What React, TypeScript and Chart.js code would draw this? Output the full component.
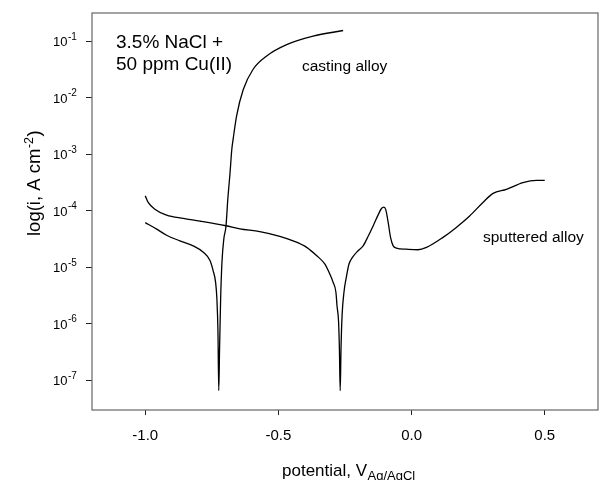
import React, { useEffect, useRef } from "react";
import { Chart, registerables } from "chart.js";

Chart.register(...registerables);

// ---- data (potential in V vs Ag/AgCl, current density in A cm^-2) ----
const castingPotential = [
  -1.0, -0.957, -0.92, -0.87, -0.82, -0.782, -0.757, -0.745, -0.736, -0.731, -0.727, -0.724,
  -0.721, -0.717, -0.712, -0.705, -0.697, -0.69, -0.682, -0.675, -0.67, -0.657, -0.632,
  -0.595, -0.544, -0.469, -0.37, -0.257,
];
const castingCurrent = [
  6.2e-5, 4.75e-5, 3.7e-5, 2.95e-5, 2.4e-5, 1.85e-5, 1.32e-5, 8.7e-6, 5.5e-6, 2.75e-6, 7.1e-7, 6.6e-8,
  3.6e-7, 2.75e-6, 1.23e-5, 3.2e-5, 5.3e-5, 1.62e-4, 4.5e-4, 1.23e-3, 1.86e-3, 4.8e-3, 1.4e-2,
  3.2e-2, 5.5e-2, 8.7e-2, 0.123, 0.155,
];

const sputteredPotential = [
  -1.0, -0.989, -0.964, -0.92, -0.857, -0.795, -0.697, -0.645, -0.57, -0.495, -0.445, -0.394,
  -0.357, -0.326, -0.307, -0.295, -0.284, -0.28, -0.274, -0.271, -0.268, -0.265, -0.261, -0.254,
  -0.244, -0.235, -0.222, -0.201, -0.182, -0.163, -0.144, -0.126, -0.113, -0.104, -0.097, -0.088,
  -0.079, -0.069, -0.057, -0.019, 0.024, 0.056, 0.118, 0.168, 0.218, 0.268, 0.306, 0.356, 0.418,
  0.469, 0.5,
];
const sputteredCurrent = [
  1.84e-4, 1.41e-4, 1.07e-4, 8.4e-5, 7.35e-5, 6.6e-5, 5.45e-5, 4.8e-5, 4.3e-5, 3.55e-5, 2.95e-5, 2.26e-5,
  1.62e-5, 1.15e-5, 7.6e-6, 5.5e-6, 3.6e-6, 2.1e-6, 1.07e-6, 3.6e-7, 6.6e-8, 3.6e-7, 1.4e-6, 3.6e-6,
  7.1e-6, 1.15e-5, 1.5e-5, 1.97e-5, 2.4e-5, 3.55e-5, 5.45e-5, 8.4e-5, 1.1e-4, 1.16e-4, 1.05e-4, 6.3e-5,
  3.4e-5, 2.4e-5, 2.2e-5, 2.1e-5, 2.05e-5, 2.26e-5, 3.4e-5, 5.1e-5, 8.1e-5, 1.41e-4, 2.04e-4, 2.4e-4, 3.16e-4,
  3.47e-4, 3.47e-4,
];

const xTicks = [-1.0, -0.5, 0.0, 0.5];
const xTickLabels = ["-1.0", "-0.5", "0.0", "0.5"];
const yTickExponents = [-1, -2, -3, -4, -5, -6, -7];

const xTitle = "potential, V";
const xTitleSub = "Ag/AgCl";
const yTitleMain = "log(i, A cm";
const yTitleSup = "-2";
const yTitleEnd = ")";
const noteLines = ["3.5% NaCl +", "50 ppm Cu(II)"];
const castingLabel = "casting alloy";
const sputteredLabel = "sputtered alloy";

const FONT = "'Liberation Sans', Arial, Helvetica, sans-serif";

const textPlugin = {
  id: "textPlugin",
  afterDraw(chart: any) {
    const ctx: CanvasRenderingContext2D = chart.ctx;
    const { left, right, top, bottom } = chart.chartArea;
    const xs = chart.scales.x;
    const ys = chart.scales.y;
    ctx.save();
    ctx.strokeStyle = "#666";
    ctx.lineWidth = 1.2;
    ctx.strokeRect(left, top, right - left, bottom - top);

    ctx.fillStyle = "#000";
    ctx.textBaseline = "alphabetic";

    ctx.font = `15px ${FONT}`;
    ctx.textAlign = "center";
    xTicks.forEach((v, i) => {
      const px = xs.getPixelForValue(v);
      ctx.fillText(xTickLabels[i], px, 440);
    });

    ys.ticks.forEach((t: any) => {
      const py = ys.getPixelForValue(t.value);
      const e = Math.round(Math.log10(t.value));
      ctx.textAlign = "left";
      ctx.font = `13px ${FONT}`;
      ctx.fillText("10", 53, py + 5);
      const w = ctx.measureText("10").width;
      ctx.font = `10px ${FONT}`;
      ctx.fillText(String(e), 53 + w + 0.5, py - 1.5);
    });

    ctx.textAlign = "left";
    ctx.font = `17px ${FONT}`;
    const tx = 282;
    ctx.fillText(xTitle, tx, 476);
    const tw = ctx.measureText(xTitle).width;
    ctx.font = `13px ${FONT}`;
    ctx.fillText(xTitleSub, tx + tw + 0.5, 480);

    ctx.save();
    ctx.translate(40, 236);
    ctx.rotate(-Math.PI / 2);
    ctx.font = `18.5px ${FONT}`;
    ctx.fillText(yTitleMain, 0, 0);
    const w1 = ctx.measureText(yTitleMain).width;
    ctx.font = `12.5px ${FONT}`;
    ctx.fillText(yTitleSup, w1 + 0.5, -7.5);
    const w2 = ctx.measureText(yTitleSup).width;
    ctx.font = `18.5px ${FONT}`;
    ctx.fillText(yTitleEnd, w1 + w2 + 1, 0);
    ctx.restore();

    ctx.font = `19px ${FONT}`;
    ctx.fillText(noteLines[0], 116, 48);
    ctx.fillText(noteLines[1], 116, 70);
    ctx.font = `15.5px ${FONT}`;
    ctx.fillText(castingLabel, 302, 71);
    ctx.fillText(sputteredLabel, 483, 242);
    ctx.restore();
  },
};

export default function App() {
  const ref = useRef<HTMLCanvasElement>(null);
  useEffect(() => {
    const canvas = ref.current!;
    const chart = new Chart(canvas, {
      type: "line",
      data: {
        datasets: [
          {
            label: castingLabel,
            data: castingPotential.map((x, i) => ({ x, y: castingCurrent[i] })),
            borderColor: "#000",
            borderWidth: 1.3,
            pointRadius: 0,
            cubicInterpolationMode: "monotone",
            fill: false,
          },
          {
            label: sputteredLabel,
            data: sputteredPotential.map((x, i) => ({ x, y: sputteredCurrent[i] })),
            borderColor: "#000",
            borderWidth: 1.3,
            pointRadius: 0,
            cubicInterpolationMode: "monotone",
            fill: false,
          },
        ],
      },
      options: {
        animation: false,
        responsive: false,
        devicePixelRatio: 1,
        layout: { padding: { left: 0, top: 13, right: 5, bottom: 0 } },
        plugins: { legend: { display: false }, tooltip: { enabled: false } },
        scales: {
          x: {
            type: "linear",
            min: -1.2,
            max: 0.7,
            afterBuildTicks: (axis: any) => {
              axis.ticks = xTicks.map((v) => ({ value: v }));
            },
            afterFit: (axis: any) => {
              axis.height = 70;
            },
            ticks: { display: false },
            grid: {
              display: true,
              drawOnChartArea: false,
              drawTicks: true,
              tickLength: 5,
              color: "#222",
              lineWidth: 1,
            },
            border: { display: false },
          },
          y: {
            type: "logarithmic",
            min: Math.pow(10, -7.5),
            max: Math.pow(10, -0.5),
            afterBuildTicks: (axis: any) => {
              axis.ticks = yTickExponents.map((e) => ({ value: Math.pow(10, e) }));
            },
            afterFit: (axis: any) => {
              axis.width = 92;
            },
            ticks: { display: false },
            grid: {
              display: true,
              drawOnChartArea: false,
              drawTicks: true,
              tickLength: 6,
              color: "#222",
              lineWidth: 1,
            },
            border: { display: false },
          },
        },
      },
      plugins: [textPlugin],
    } as any);
    return () => chart.destroy();
  }, []);
  return (
    <div style={{ position: "fixed", left: 0, top: 0, width: 603, height: 480, background: "#fff" }}>
      <canvas ref={ref} width={603} height={480} style={{ width: 603, height: 480, display: "block" }} />
    </div>
  );
}
